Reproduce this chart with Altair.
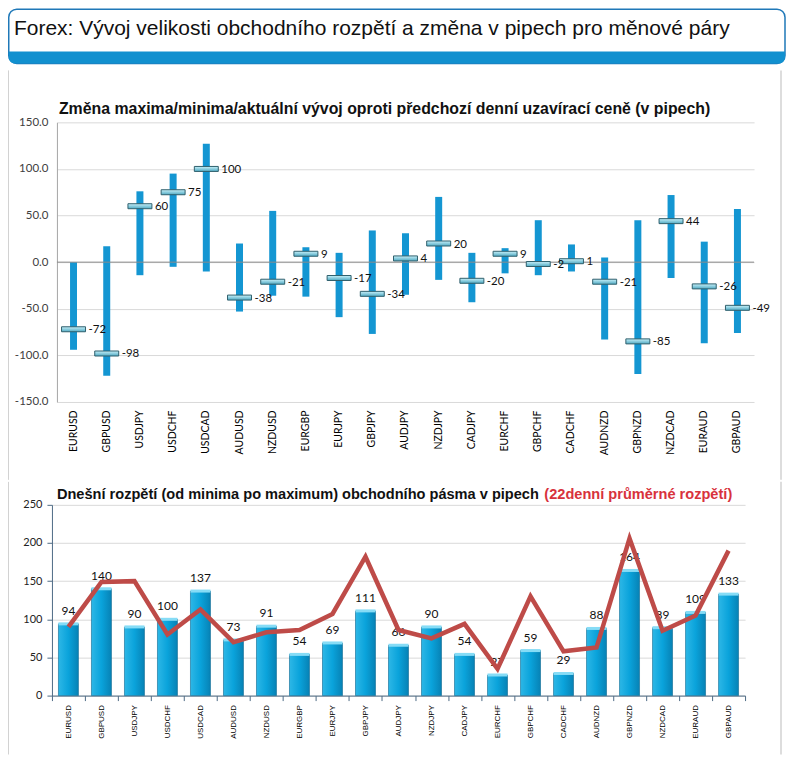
import altair as alt
import pandas as pd

pairs = ["EURUSD", "GBPUSD", "USDJPY", "USDCHF", "USDCAD", "AUDUSD", "NZDUSD",
         "EURGBP", "EURJPY", "GBPJPY", "AUDJPY", "NZDJPY", "CADJPY", "EURCHF",
         "GBPCHF", "CADCHF", "AUDNZD", "GBPNZD", "NZDCAD", "EURAUD", "GBPAUD"]
change_high = [0, 17, 76, 95, 127, 20, 55, 16, 10, 34, 31, 70, 10, 15, 45, 19, 5, 45, 72, 22, 57]
change_low = [-94, -122, -14, -5, -10, -53, -36, -37, -59, -77, -35, -19, -43, -12, -14, -10,
              -83, -120, -17, -87, -76]
change_now = [-72, -98, 60, 75, 100, -38, -21, 9, -17, -34, 4, 20, -20, 9, -2, 1, -21, -85, 44, -26, -49]
range_today = [94, 140, 90, 100, 137, 73, 91, 54, 69, 111, 66, 90, 54, 27, 59, 29, 88, 164, 89, 109, 133]
range_avg22 = [90, 149, 150, 80, 113, 70, 83, 86, 107, 182, 86, 75, 94, 35, 130, 58, 63, 206, 85, 105, 190]
top_ticks = [-150, -100, -50, 0, 50, 100, 150]
bot_ticks = [0, 50, 100, 150, 200, 250]

main_title = "Forex: Vývoj velikosti obchodního rozpětí a změna v pipech pro měnové páry"
top_title = "Změna maxima/minima/aktuální vývoj oproti předchozí denní uzavírací ceně (v pipech)"
bot_title_a = "Dnešní rozpětí (od minima po maximum) obchodního pásma v pipech"
bot_title_b = "(22denní průměrné rozpětí)"

one = pd.DataFrame({"k": [0]})
top_df = pd.DataFrame({"pair": pairs, "high": change_high, "low": change_low, "now": change_now,
                       "now_txt": [str(v) for v in change_now]})
bot_df = pd.DataFrame({"pair": pairs, "today": range_today, "avg": range_avg22})

PANEL = "#d2d2d2"

# ---------------- top chart ----------------
xt = alt.X("pair:N", sort=pairs, scale=alt.Scale(paddingInner=0, paddingOuter=0),
           axis=alt.Axis(title=None, labelAngle=270, labelFont="Lato", labelFontSize=10.5,
                         labelColor="#000000", labelPadding=8, domain=False, ticks=False))
top_axis = alt.Axis(title=None, values=top_ticks,
                    labelExpr="datum.value < 0 ? '-' + format(-datum.value, '.1f') : format(datum.value, '.1f')",
                    labelFont="Lato", labelFontSize=11.5, labelColor="#404040",
                    labelPadding=9, ticks=False, domainColor="#a6a6a6",
                    gridColor="#d9d9d9", labelOverlap=False)
top_scale = alt.Scale(domain=[-150, 150], nice=False)


def yt(field):
    return alt.Y(field, scale=top_scale, axis=top_axis)


banner_box = alt.Chart(one).mark_rect(cornerRadius=8, fill="white", stroke="#1f78b8",
                                      strokeWidth=1.5).encode(
    x=alt.value(-48.25), x2=alt.value(729), y=alt.value(-113.25), y2=alt.value(-59))
banner_strip = alt.Chart(one).mark_rect(cornerRadiusBottomLeft=8, cornerRadiusBottomRight=8,
                                        fill="#1190cf").encode(
    x=alt.value(-48.25), x2=alt.value(729), y=alt.value(-71), y2=alt.value(-59))
banner_text = alt.Chart(one).mark_text(align="left", baseline="alphabetic",
                                       font="Liberation Sans", fontSize=21,
                                       color="#111111").encode(
    x=alt.value(-43), y=alt.value(-87), text=alt.value(main_title))
panel_l1 = alt.Chart(one).mark_rule(color=PANEL, strokeWidth=1).encode(
    x=alt.value(-48.5), y=alt.value(-52), y2=alt.value(358))
panel_r1 = alt.Chart(one).mark_rule(color=PANEL, strokeWidth=1.5).encode(
    x=alt.value(725), y=alt.value(-52), y2=alt.value(358))
top_title_t = alt.Chart(one).mark_text(align="left", baseline="alphabetic",
                                       font="Liberation Sans", fontSize=15.9, fontWeight="bold",
                                       color="#111111").encode(
    x=alt.value(2), y=alt.value(-8), text=alt.value(top_title))

zero_rule = alt.Chart(one).mark_rule(color="#8c8c8c", strokeWidth=1).encode(y=alt.datum(0))
whisk = alt.Chart(top_df).mark_rule(strokeWidth=7, color="#1496d2").encode(
    x=xt, y=yt("low:Q"), y2="high:Q")
cap_grad = alt.LinearGradient(gradient="linear", x1=0, x2=0, y1=0, y2=1,
                              stops=[alt.GradientStop(color="#c8f1fa", offset=0),
                                     alt.GradientStop(color="#4fa9c2", offset=1)])
caps = alt.Chart(top_df).mark_tick(thickness=5, size=24, fill=cap_grad, stroke="#2f5f6c",
                                   strokeWidth=1, opacity=1).encode(
    x=xt, y=yt("now:Q"))
cap_labels = alt.Chart(top_df).mark_text(align="left", baseline="middle", dx=15, dy=1,
                                         font="Lato", fontSize=11.5, color="#111111").encode(
    x=xt, y=yt("now:Q"), text="now_txt:N")

top = alt.layer(banner_box, banner_strip, banner_text, panel_l1, panel_r1, top_title_t,
                whisk, zero_rule, caps, cap_labels).properties(width=698, height=280)

# ---------------- bottom chart ----------------
AX = "#4d6a85"
xb = alt.X("pair:N", sort=pairs, scale=alt.Scale(paddingInner=0, paddingOuter=0, range=[-5, 689]),
           axis=alt.Axis(title=None, labelAngle=270, labelFont="Liberation Sans",
                         labelFontSize=8, labelColor="#000000", labelPadding=4,
                         domainColor=AX, tickColor=AX, tickBand="extent", tickSize=5))
bot_axis = alt.Axis(title=None, values=bot_ticks, tickCount=6, labelFont="Lato",
                    labelFontSize=11, labelColor="#222222", labelPadding=5, offset=5,
                    domainColor=AX, tickColor=AX, tickSize=5, gridColor="#d9d9d9",
                    labelOverlap=False)
bot_scale = alt.Scale(domain=[0, 250], nice=False)


def yb(field):
    return alt.Y(field, scale=bot_scale, axis=bot_axis)


panel_l2 = alt.Chart(one).mark_rule(color=PANEL, strokeWidth=1).encode(
    x=alt.value(-48.5), y=alt.value(-23), y2=alt.value(250))
panel_r2 = alt.Chart(one).mark_rule(color=PANEL, strokeWidth=1.5).encode(
    x=alt.value(725), y=alt.value(-23), y2=alt.value(250))
bt_a = alt.Chart(one).mark_text(align="left", baseline="alphabetic", font="Liberation Sans",
                                fontSize=14.6, fontWeight="bold", color="#111111").encode(
    x=alt.value(0), y=alt.value(-6), text=alt.value(bot_title_a))
bt_b = alt.Chart(one).mark_text(align="left", baseline="alphabetic", font="Liberation Sans",
                                fontSize=14.6, fontWeight="bold", color="#d8323c").encode(
    x=alt.value(488), y=alt.value(-6), text=alt.value(bot_title_b))

bar_grad = alt.LinearGradient(gradient="linear", x1=0, x2=1, y1=0, y2=0,
                              stops=[alt.GradientStop(color="#2db7e6", offset=0),
                                     alt.GradientStop(color="#0aa3db", offset=0.5),
                                     alt.GradientStop(color="#0782b5", offset=1)])
bars = alt.Chart(bot_df).mark_bar(size=20, fill=bar_grad, stroke="#0a6790",
                                  strokeWidth=0.6).encode(x=xb, y=yb("today:Q"))
bar_caps = alt.Chart(bot_df).mark_tick(size=20, thickness=3, color="#86dcf6",
                                       opacity=1).encode(x=xb, y=yb("today:Q"))
bar_labels = alt.Chart(bot_df).mark_text(baseline="bottom", dy=-6, font="Lato", fontSize=12,
                                         color="#111111").encode(
    x=xb, y=yb("today:Q"), text="today:Q")
avg_line = alt.Chart(bot_df).mark_line(color="#be4b48", strokeWidth=4.5).encode(
    x=xb, y=yb("avg:Q"))

bottom = alt.layer(panel_l2, panel_r2, bt_a, bt_b, bars, bar_caps, bar_labels,
                   avg_line).properties(width=689, height=191)

chart = alt.vconcat(top, bottom, spacing=0).properties(
    padding=0, background="white").configure_view(stroke=None)

chart.save("out.html", embed_options={"renderer": "svg", "actions": False})
